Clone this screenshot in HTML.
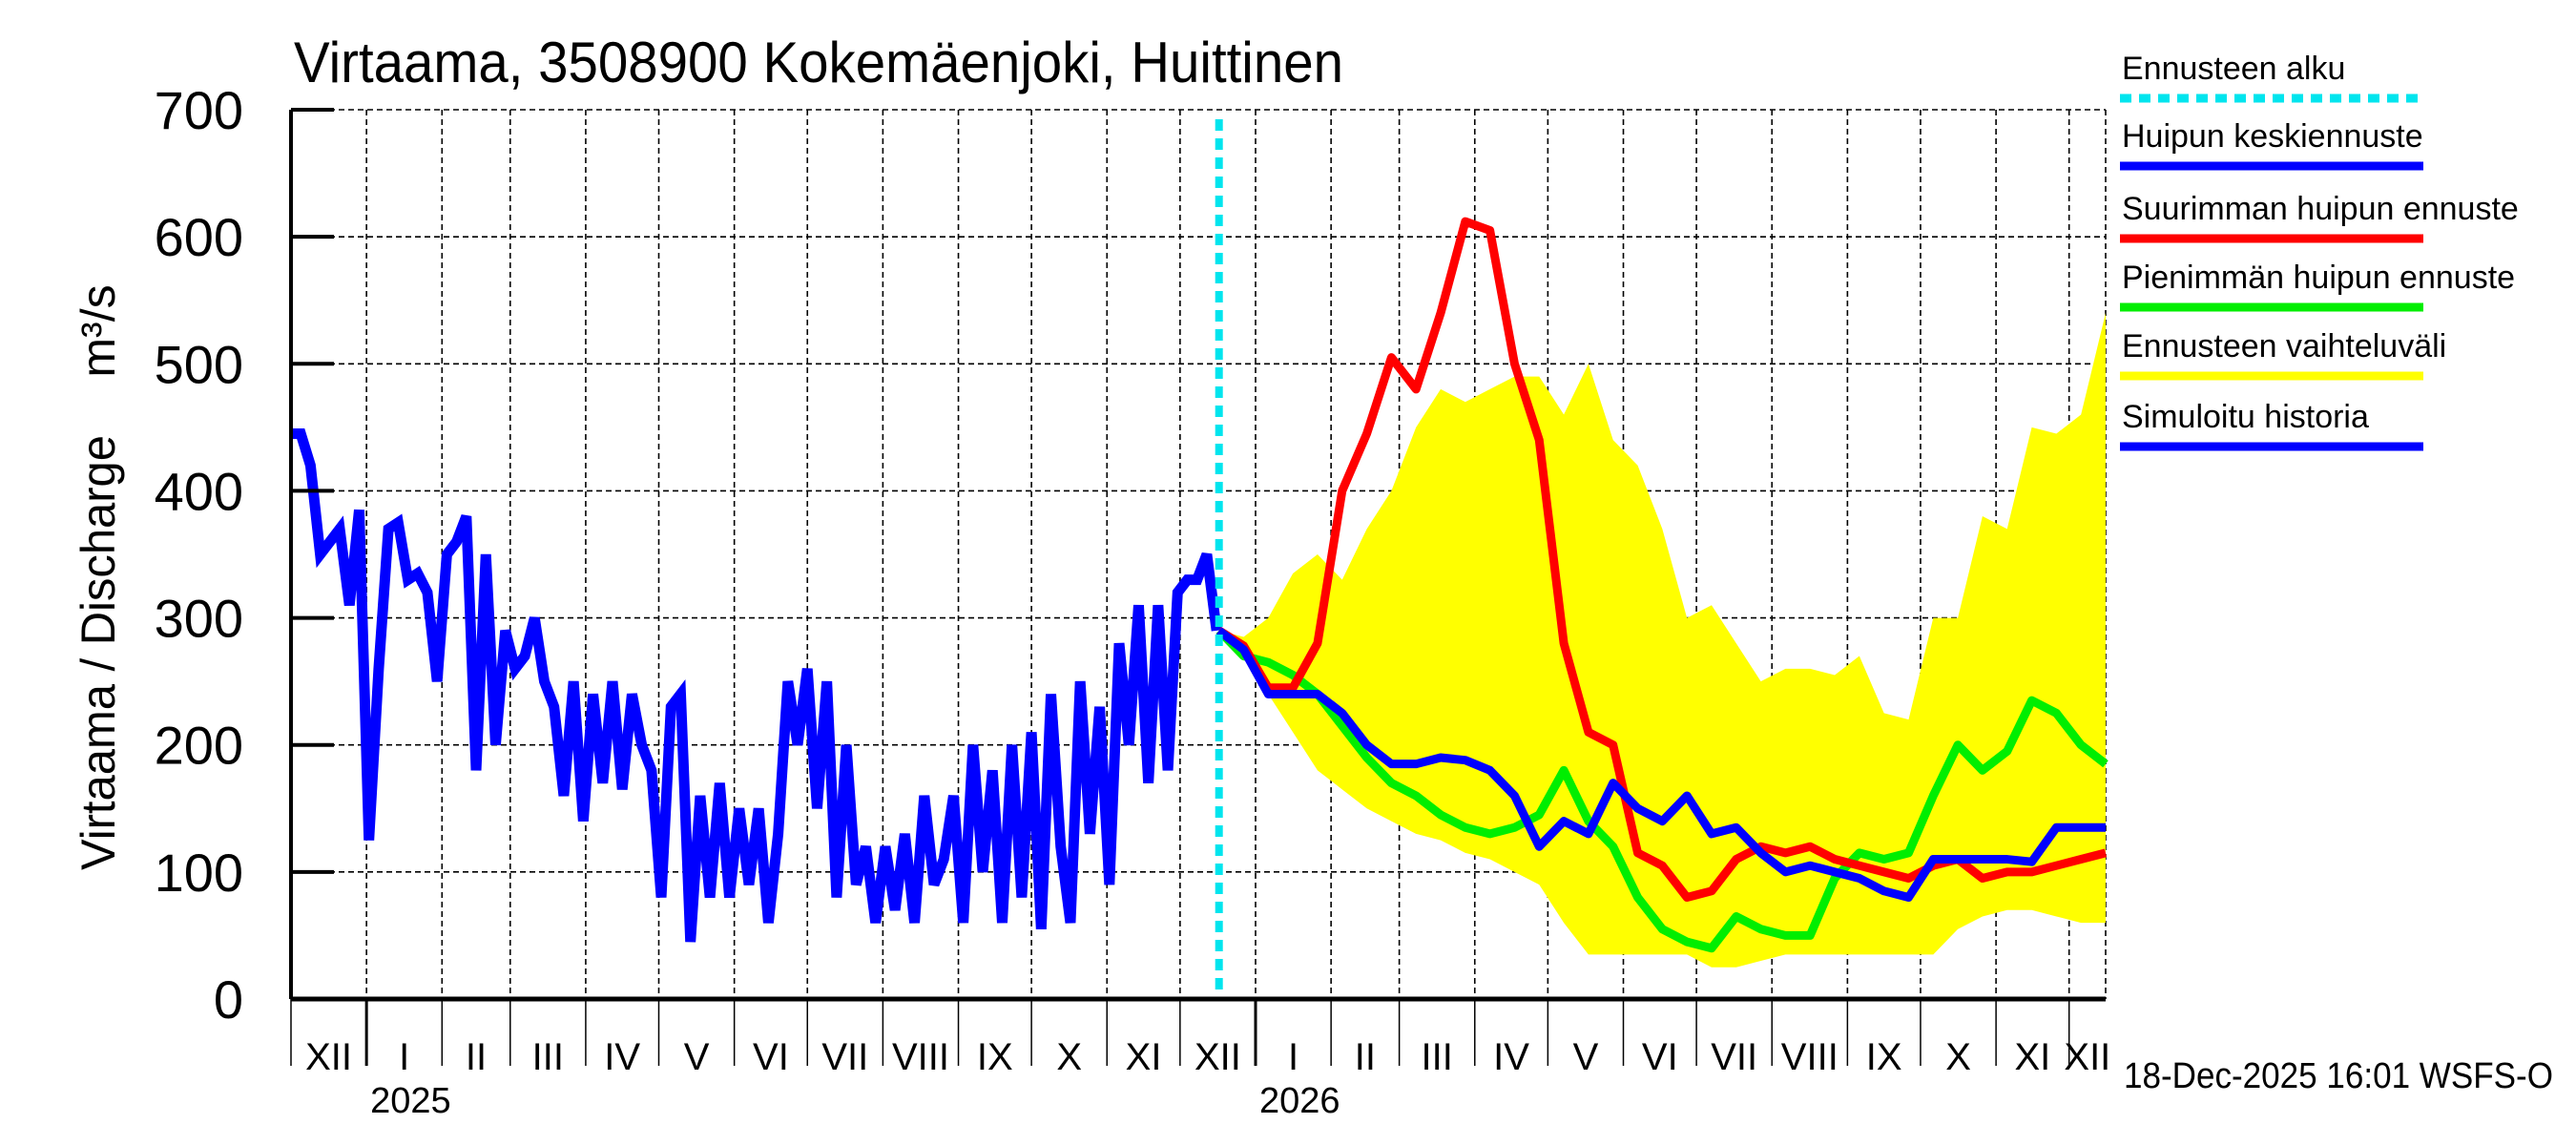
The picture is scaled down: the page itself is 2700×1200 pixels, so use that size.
<!DOCTYPE html>
<html><head><meta charset="utf-8">
<style>
html,body{margin:0;padding:0;background:#fff;}
svg{display:block;font-family:"Liberation Sans",sans-serif;}
</style></head>
<body>
<svg id="chart" width="2700" height="1200" viewBox="0 0 2700 1200" xmlns="http://www.w3.org/2000/svg">
<text x="308" y="86" font-size="60" textLength="1100" lengthAdjust="spacingAndGlyphs">Virtaama, 3508900 Kokemäenjoki, Huittinen</text>
<text transform="translate(120,684) rotate(-90)" text-anchor="middle" font-size="50" textLength="456" lengthAdjust="spacingAndGlyphs">Virtaama / Discharge</text>
<text transform="translate(120,347) rotate(-90)" text-anchor="middle" font-size="50">m³/s</text>
<g id="grid"></g>
<g id="band"></g>
<g id="series"></g>
<g id="axes"></g>
<g id="legend"></g>
<text x="2226" y="1140" font-size="38" textLength="450" lengthAdjust="spacingAndGlyphs">18-Dec-2025 16:01 WSFS-O</text>
</svg>
<script>
// ---- data ----
const yTicks = [0,100,200,300,400,500,600,700];
const monthLabels = ["XII","I","II","III","IV","V","VI","VII","VIII","IX","X","XI","XII","I","II","III","IV","V","VI","VII","VIII","IX","X","XI","XII"];
const monthStartDays = [0,31,62,90,121,151,182,212,243,274,304,335,365,396,427,455,486,516,547,577,608,639,669,700,730];
const yearLabels = ["2025","2026"];
const yearDays = [31,396];
const forecastStartDay = 381;
const histStep = 4;
const history = [445,445,420,350,360,370,310,385,125,260,370,375,330,335,320,250,350,360,380,180,350,200,290,260,270,300,250,230,160,250,140,240,170,250,165,240,200,180,80,230,240,45,160,80,170,80,150,90,150,60,130,250,200,260,150,250,80,200,90,120,60,120,70,130,60,160,90,110,160,60,200,100,180,60,200,80,210,55,240,120,60,250,130,230,90,280,200,310,170,310,180,320,330,330,350,290];
const fcEndDay = 745;
const fcMax = [290,278,245,245,280,400,445,505,480,540,612,605,500,440,280,210,200,115,105,80,85,110,120,115,120,110,105,100,95,105,110,95,100,100,105,110,115];
const fcMean = [290,275,240,240,240,225,200,185,185,190,188,180,160,120,140,130,170,150,140,160,130,135,115,100,105,100,95,85,80,110,110,110,110,108,135,135,135];
const fcMin = [290,270,265,255,240,215,190,170,160,145,135,130,135,145,180,140,120,80,55,45,40,65,55,50,50,95,115,110,115,160,200,180,195,235,225,200,185];
const bandUpper = [290,285,300,335,350,330,370,400,450,480,470,480,490,490,460,500,440,420,370,300,310,280,250,260,260,255,270,225,220,300,300,380,370,450,445,460,540];
const bandLower = [290,270,240,210,180,165,150,140,130,125,115,110,100,90,60,35,35,35,35,35,25,25,30,35,35,35,35,35,35,35,55,65,70,70,65,60,60];

// ---- scales ----
const L=305,R=2207,T=115,B=1047,D0=0,D1=745,V1=700;
const xs=d=>L+(d-D0)/(D1-D0)*(R-L);
const ys=v=>B-v/V1*(B-T);
const NS="http://www.w3.org/2000/svg";
function mk(tag,attrs,parent){const e=document.createElementNS(NS,tag);for(const k in attrs)e.setAttribute(k,attrs[k]);parent.appendChild(e);return e;}
const grid=document.getElementById('grid'),axes=document.getElementById('axes'),band=document.getElementById('band'),series=document.getElementById('series'),legend=document.getElementById('legend');

// grid
yTicks.forEach(v=>{ if(v===0)return;
  const l=mk('line',{x1:L,x2:R,y1:ys(v),y2:ys(v),stroke:'#000','stroke-width':1.6,'stroke-dasharray':'6,4'},grid);
  
  
});
monthStartDays.concat([D1]).forEach(d=>{ if(d===0)return;
  const l=mk('line',{x1:xs(d),x2:xs(d),y1:T,y2:B,stroke:'#000','stroke-width':1.6,'stroke-dasharray':'6,4'},grid);
  
  
});

// band
const fcN=bandUpper.length, fcStep=(fcEndDay-forecastStartDay)/(fcN-1);
const fd=i=>forecastStartDay+i*fcStep;
let pts=bandUpper.map((v,i)=>xs(fd(i))+','+ys(v));
for(let i=fcN-1;i>=0;i--)pts.push(xs(fd(i))+','+ys(bandLower[i]));
const poly=mk('polygon',{points:pts.join(' '),fill:'#ffff00',stroke:'none'},band);



// history
const hp=history.map((v,i)=>xs(Math.min(i*histStep,forecastStartDay))+','+ys(v)).join(' ');
const hl=mk('polyline',{points:hp,fill:'none',stroke:'#0000ff','stroke-width':11,'stroke-linejoin':'miter'},series);



function fcLine(arr,color){
  const p=arr.map((v,i)=>xs(fd(i))+','+ys(v)).join(' ');
  return mk('polyline',{points:p,fill:'none',stroke:color,'stroke-width':9,'stroke-linejoin':'round'},series);
}
const g1=fcLine(fcMin,'#00ee00');


const r1=fcLine(fcMax,'#ff0000');


const b1=fcLine(fcMean,'#0000ff');



// forecast start
const fs=mk('line',{x1:xs(forecastStartDay),x2:xs(forecastStartDay),y1:ys(V1)+10,y2:B,stroke:'#00e5ee','stroke-width':8,'stroke-dasharray':'12,8'},series);



// axes
const ya=mk('line',{x1:L,x2:L,y1:T,y2:B,stroke:'#000','stroke-width':4},axes);


const xa=mk('line',{x1:L,x2:R,y1:B,y2:B,stroke:'#000','stroke-width':5},axes);


yTicks.forEach(v=>{
  const t=mk('line',{x1:L,x2:L+45,y1:ys(v),y2:ys(v),stroke:'#000','stroke-width':4},axes);
  
  
  const tx=mk('text',{x:255,y:ys(v)+20,'text-anchor':'end','font-size':56},axes);
  tx.textContent=v;
  
  
});
monthStartDays.forEach((d,i)=>{
  const isYear=yearDays.includes(d);
  const t=mk('line',{x1:xs(d),x2:xs(d),y1:B,y2:isYear?1117:1117,stroke:'#000','stroke-width':isYear?3:1.5},axes);
  
  
  const next=i+1<monthStartDays.length?monthStartDays[i+1]:D1;
  const tx=mk('text',{x:(xs(d)+xs(next))/2,y:1121,'text-anchor':'middle','font-size':40},axes);
  tx.textContent=monthLabels[i];
  
  
});
yearLabels.forEach((y,i)=>{
  const tx=mk('text',{x:xs(yearDays[i])+4,y:1166,'font-size':38},axes);
  tx.textContent=y;
  
  
});

// legend
const legItems=[["Ennusteen alku","#00e5ee",103,true],["Huipun keskiennuste","#0000ff",174,false],["Suurimman huipun ennuste","#ff0000",250,false],["Pienimmän huipun ennuste","#00ee00",322,false],["Ennusteen vaihteluväli","#ffff00",394,false],["Simuloitu historia","#0000ff",468,false]];
legItems.forEach(it=>{
  const tx=mk('text',{x:2224,y:it[2]-20,'font-size':34},legend);
  tx.textContent=it[0];
  
  
  const ln=mk('line',{x1:2222,x2:2540,y1:it[2],y2:it[2],stroke:it[1],'stroke-width':9},legend);
  if(it[3])ln.setAttribute('stroke-dasharray','12,8');
  
  
});
</script>
</body></html>
